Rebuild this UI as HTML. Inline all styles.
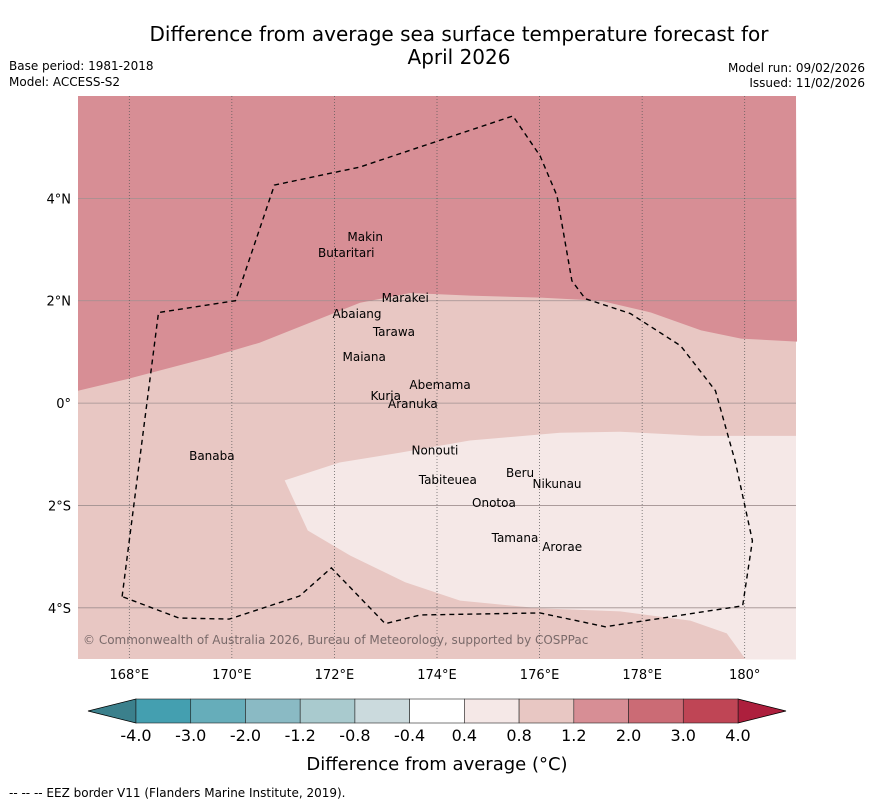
<!DOCTYPE html>
<html><head><meta charset="utf-8"><style>
body{margin:0;background:#fff;font-family:"Liberation Sans",sans-serif;}
svg text{font-family:"DejaVu Sans","Liberation Sans",sans-serif;}
</style></head><body>
<svg id="c" width="873" height="804" xmlns="http://www.w3.org/2000/svg">
<text x="459" y="41" text-anchor="middle" font-size="20">Difference from average sea surface temperature forecast for</text>
<text x="459" y="64" text-anchor="middle" font-size="20">April 2026</text>
<text x="9" y="70" font-size="12">Base period: 1981-2018</text>
<text x="9" y="86" font-size="12">Model: ACCESS-S2</text>
<text x="865" y="72" text-anchor="end" font-size="12">Model run: 09/02/2026</text>
<text x="865" y="87" text-anchor="end" font-size="12">Issued: 11/02/2026</text>
<g id="map"></g>
<g id="cb"></g>
<text x="437" y="770" text-anchor="middle" font-size="18">Difference from average (°C)</text>
<text x="9" y="797" font-size="12">--  --  -- EEZ border V11 (Flanders Marine Institute, 2019).</text>
</svg>
<script>
const lonTicks=[168,170,172,174,176,178,180];
const latTicks=[4,2,0,-2,-4];
const bandLon1=[167.0,168.0,169.56,170.54,171.52,172.5,173.48,174.65,176.02,177.19,178.17,179.15,179.93,181.02];
const bandLat1=[0.24,0.48,0.89,1.18,1.57,1.96,2.15,2.10,2.06,2.0,1.77,1.42,1.26,1.20];
const bandLon2=[171.03,172.1,173.27,174.64,176.4,177.57,179.15,181,181,180.02,179.65,178.94,177.57,176.02,174.45,173.38,172.31,171.48];
const bandLat2=[-1.51,-1.16,-0.97,-0.73,-0.58,-0.56,-0.64,-0.64,-5.01,-5.01,-4.50,-4.25,-4.07,-4.01,-3.86,-3.50,-2.98,-2.49];
const eezLon=[167.86,168.57,170.07,170.83,172.49,175.48,176.01,176.34,176.63,176.89,177.77,178.75,179.43,179.82,180.15,179.96,177.28,176.01,173.67,172.99,171.94,171.32,169.95,168.97,167.86];
const eezLat=[-3.78,1.77,2.0,4.26,4.61,5.61,4.83,4.05,2.39,2.04,1.75,1.12,0.24,-1.16,-2.69,-3.96,-4.37,-4.10,-4.14,-4.31,-3.22,-3.77,-4.22,-4.20,-3.78];
const islandNames=["Makin","Butaritari","Marakei","Abaiang","Tarawa","Maiana","Abemama","Kuria","Aranuka","Nonouti","Banaba","Tabiteuea","Beru","Nikunau","Onotoa","Tamana","Arorae"];
const islandLon=[172.60,172.23,173.38,172.44,173.16,172.58,174.06,173.00,173.53,173.96,169.61,174.21,175.62,176.34,175.11,175.52,176.44];
const islandLat=[3.17,2.85,1.98,1.66,1.31,0.82,0.28,0.06,-0.10,-1.00,-1.11,-1.58,-1.44,-1.66,-2.03,-2.71,-2.89];
const cbBounds=["-4.0","-3.0","-2.0","-1.2","-0.8","-0.4","0.4","0.8","1.2","2.0","3.0","4.0"];
const cbColors=["#449fb0","#66adba","#8abac4","#a9cace","#cbdadd","#ffffff","#f5e8e7","#e8c7c3","#d78e95","#cb6b75","#bf4555"];
const X0=78,X1=796,Y0=96,Y1=659,LON0=167,LON1=181,LAT0=6,LAT1=-5;
const sx=l=>X0+(l-LON0)/(LON1-LON0)*(X1-X0);
const sy=l=>Y0+(LAT0-l)/(LAT0-LAT1)*(Y1-Y0);
const NS="http://www.w3.org/2000/svg";
function mk(p,t,a){const e=document.createElementNS(NS,t);for(const k in a)e.setAttribute(k,a[k]);p.appendChild(e);return e;}
const map=document.getElementById('map');
let r=mk(map,'rect',{x:X0,y:Y0,width:X1-X0,height:Y1-Y0,fill:'#e8c7c3'});


let d='M'+sx(LON0)+','+sy(LAT0)+' L'+bandLon1.map((l,i)=>sx(l)+','+sy(bandLat1[i])).join(' L')+' L'+sx(LON1)+','+sy(LAT0)+'Z';
let p=mk(map,'path',{d:d,fill:'#d78e95'});


d='M'+bandLon2.map((l,i)=>sx(l)+','+sy(bandLat2[i])).join(' L')+'Z';
p=mk(map,'path',{d:d,fill:'#f5e8e7'});


latTicks.forEach(t=>{
 let l=mk(map,'line',{x1:X0,x2:X1,y1:sy(t),y2:sy(t),stroke:'#a09090','stroke-width':0.8});
 
 
 let tx=mk(map,'text',{x:X0-7,y:sy(t)+5,'text-anchor':'end','font-size':13});
 tx.textContent=(t===0?'0°':Math.abs(t)+'°'+(t>0?'N':'S'));
 
 
});
lonTicks.forEach(t=>{
 let l=mk(map,'line',{x1:sx(t),x2:sx(t),y1:Y0,y2:Y1,stroke:'#555','stroke-width':0.7,'stroke-dasharray':'1,2'});
 
 
 let tx=mk(map,'text',{x:sx(t),y:Y1+20,'text-anchor':'middle','font-size':13});
 tx.textContent=t+'°'+(t<180?'E':'');
 
 
});
d='M'+eezLon.map((l,i)=>sx(l)+','+sy(eezLat[i])).join(' L');
p=mk(map,'path',{d:d,fill:'none',stroke:'#000','stroke-width':1.4,'stroke-dasharray':'5,4'});


islandNames.forEach((n,i)=>{
 let tx=mk(map,'text',{x:sx(islandLon[i]),y:sy(islandLat[i]),'text-anchor':'middle','font-size':12});
 tx.textContent=n;
 
 
});
let cp=mk(map,'text',{x:83,y:644,'font-size':12,fill:'#7a6a6a'});
cp.textContent='© Commonwealth of Australia 2026, Bureau of Meteorology, supported by COSPPac';


const cb=document.getElementById('cb');
const CX0=136,CX1=738,CY0=699,CY1=723,w=(CX1-CX0)/cbColors.length;
let tl=mk(cb,'polygon',{points:`${CX0},${CY0} 88,${(CY0+CY1)/2} ${CX0},${CY1}`,fill:'#3b808c',stroke:'#000','stroke-width':0.8});


let tr=mk(cb,'polygon',{points:`${CX1},${CY0} 786,${(CY0+CY1)/2} ${CX1},${CY1}`,fill:'#ad1f3d',stroke:'#000','stroke-width':0.8});


cbColors.forEach((c,i)=>{
 let b=mk(cb,'rect',{x:CX0+i*w,y:CY0,width:w,height:CY1-CY0,fill:c,stroke:'#222','stroke-width':0.6});
 
 
});
cbBounds.forEach((s,i)=>{
 let tx=mk(cb,'text',{x:CX0+i*w,y:741,'text-anchor':'middle','font-size':16});
 tx.textContent=s;
 
 
});
</script>
</body></html>
